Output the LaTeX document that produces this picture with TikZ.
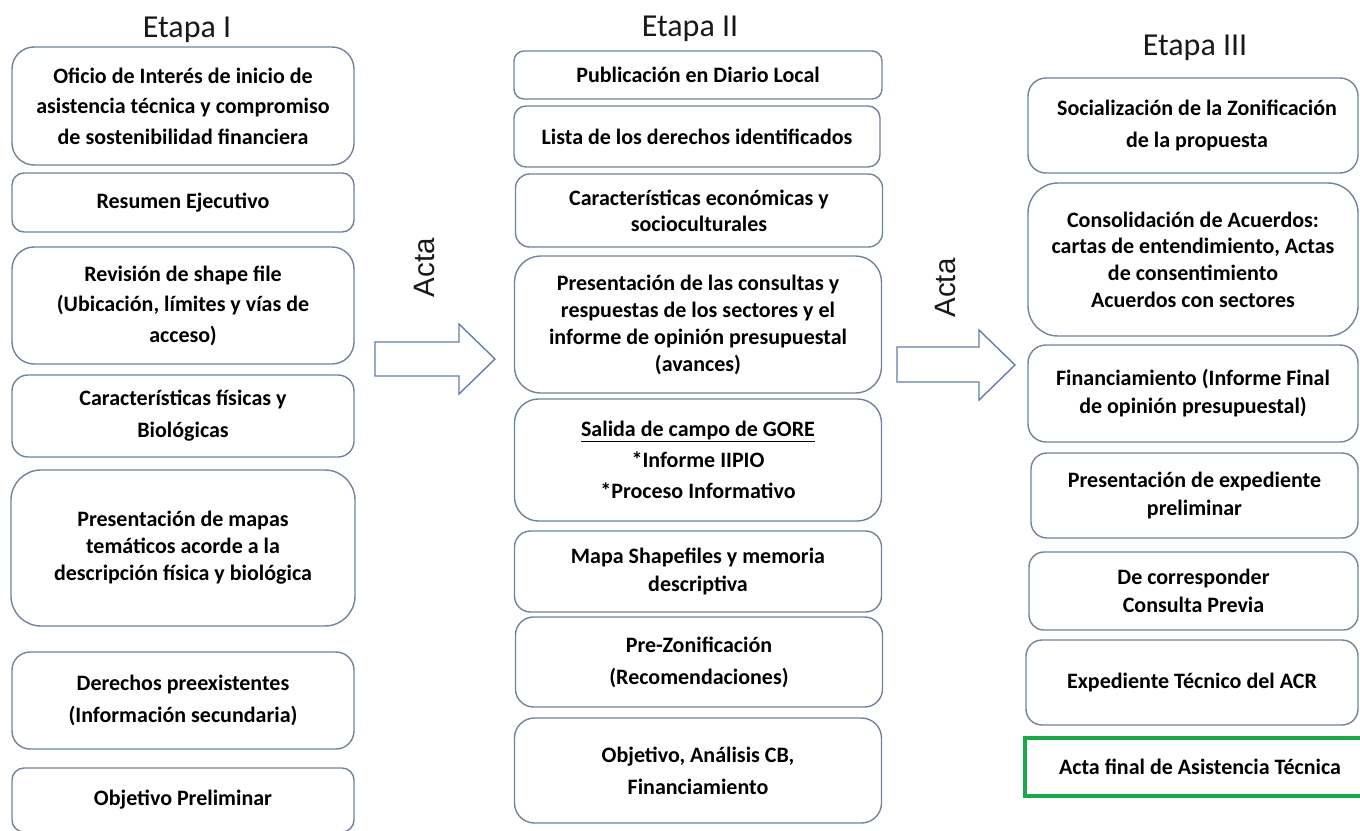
\documentclass[tikz,border=0pt]{standalone}
\usepackage{fontspec}
\setmainfont{Carlito}
\newfontfamily\actafont{Liberation Sans}
\definecolor{boxline}{RGB}{115,131,155}
\definecolor{arrline}{RGB}{100,128,165}
\definecolor{greenline}{RGB}{26,168,74}
\begin{document}
\begin{tikzpicture}[x=1pt,y=-1pt,
  box/.style={draw=boxline, line width=1.4pt, fill=white, align=center, inner sep=0pt, outer sep=0pt},
  lsp/.style={font=\bfseries\fontsize{22}{#1}\selectfont},
  titlelbl/.style={anchor=base, inner sep=0pt, font=\fontsize{32}{36}\selectfont, text=black!90},
  acta/.style={rotate=90, inner sep=0pt, font=\actafont\fontsize{29.5}{32}\selectfont, text=black!90},
  blockarrow/.style={draw=arrline, line width=1.4pt, fill=white, line join=miter}]
\useasboundingbox (0,0) rectangle (1360,830);
\fill[white] (0,0) rectangle (1360,830);

% titles
\node[titlelbl] (t1) at (187,37) {Etapa I};
\node[titlelbl] (t2) at (690,36) {Etapa II};
\node[titlelbl] (t3) at (1195,55) {Etapa III};

% column I
\node[box, lsp=30.5, minimum width=342, minimum height=118, rounded corners=22] (a1) at (183,106)
  {Oficio de Interés de inicio de\\asistencia técnica y compromiso\\de sostenibilidad financiera};
\node[box, lsp=30, minimum width=342, minimum height=59, rounded corners=12] (a2) at (183,202.5)
  {Resumen Ejecutivo};
\node[box, lsp=30.5, minimum width=342, minimum height=117, rounded corners=22] (a3) at (183,305.5)
  {Revisión de shape file\\(Ubicación, límites y vías de\\acceso)};
\node[box, lsp=32, minimum width=342, minimum height=82, rounded corners=16] (a4) at (183,416)
  {Características físicas y\\Biológicas};
\node[box, lsp=27, minimum width=344, minimum height=156, rounded corners=30] (a5) at (183,548)
  {Presentación de mapas\\temáticos acorde a la\\descripción física y biológica};
\node[box, lsp=32, minimum width=342, minimum height=97, rounded corners=18] (a6) at (183,700.5)
  {Derechos preexistentes\\(Información secundaria)};
\node[box, lsp=30, minimum width=342, minimum height=64, rounded corners=12] (a7) at (183,800)
  {Objetivo Preliminar};

% column II
\node[box, lsp=30, minimum width=368, minimum height=48, rounded corners=10] (b1) at (698,75)
  {Publicación en Diario Local};
\node[box, lsp=30, minimum width=366, minimum height=61, rounded corners=12] (b2) at (697,136.5)
  {Lista de los derechos identificados};
\node[box, lsp=26, minimum width=367, minimum height=73, rounded corners=14] (b3) at (699,210.5)
  {Características económicas y\\socioculturales};
\node[box, lsp=27, minimum width=367, minimum height=137, rounded corners=26] (b4) at (698,324.5)
  {Presentación de las consultas y\\respuestas de los sectores y el\\informe de opinión presupuestal\\(avances)};
\node[box, lsp=31, minimum width=367, minimum height=122, rounded corners=24] (b5) at (698,460)
  {\underline{Salida de campo de GORE}\\*Informe IIPIO\\*Proceso Informativo};
\node[box, lsp=28, minimum width=367, minimum height=81, rounded corners=16] (b6) at (698,571.5)
  {Mapa Shapefiles y memoria\\descriptiva};
\node[box, lsp=32, minimum width=367, minimum height=90, rounded corners=18] (b7) at (699,662)
  {Pre-Zonificación\\(Recomendaciones)};
\node[box, lsp=32, minimum width=367, minimum height=105, rounded corners=20] (b8) at (698,770.5)
  {Objetivo, Análisis CB,\\Financiamiento};

% column III
\node[box, lsp=32, minimum width=330, minimum height=95, rounded corners=18] (c1) at (1193,125.5)
  {\hspace*{8pt}Socialización de la Zonificación\\\hspace*{8pt}de la propuesta};
\node[box, lsp=26.7, minimum width=330, minimum height=153, rounded corners=30] (c2) at (1193,259.5)
  {Consolidación de Acuerdos:\\cartas de entendimiento, Actas\\de consentimiento\\Acuerdos con sectores};
\node[box, lsp=28, minimum width=330, minimum height=97, rounded corners=18] (c3) at (1193,393.5)
  {Financiamiento (Informe Final\\de opinión presupuestal)};
\node[box, lsp=28, minimum width=327, minimum height=85, rounded corners=16] (c4) at (1194.5,495.5)
  {Presentación de expediente\\preliminar};
\node[box, lsp=28, minimum width=329, minimum height=78, rounded corners=15] (c5) at (1193.5,591)
  {De corresponder\\Consulta Previa};
\node[box, lsp=28, minimum width=332, minimum height=85, rounded corners=16] (c6) at (1192,682.5)
  {Expediente Técnico del ACR};
\node[draw=greenline, line width=4pt, fill=white, align=center, inner sep=0pt, outer sep=0pt,
      lsp=30, minimum width=350, minimum height=58] (c7) at (1200,767)
  {Acta final de Asistencia Técnica};

% block arrows and labels
\draw[blockarrow] (375,342) -- (459,342) -- (459,324) -- (495,359) -- (459,394) -- (459,376) -- (375,376) -- cycle;
\draw[blockarrow] (897,347) -- (979,347) -- (979,330) -- (1015,365) -- (979,400) -- (979,382) -- (897,382) -- cycle;
\node[acta] (acta1) at (424,267.5) {Acta};
\node[acta] (acta2) at (945,288) {Acta};
\end{tikzpicture}
\end{document}
